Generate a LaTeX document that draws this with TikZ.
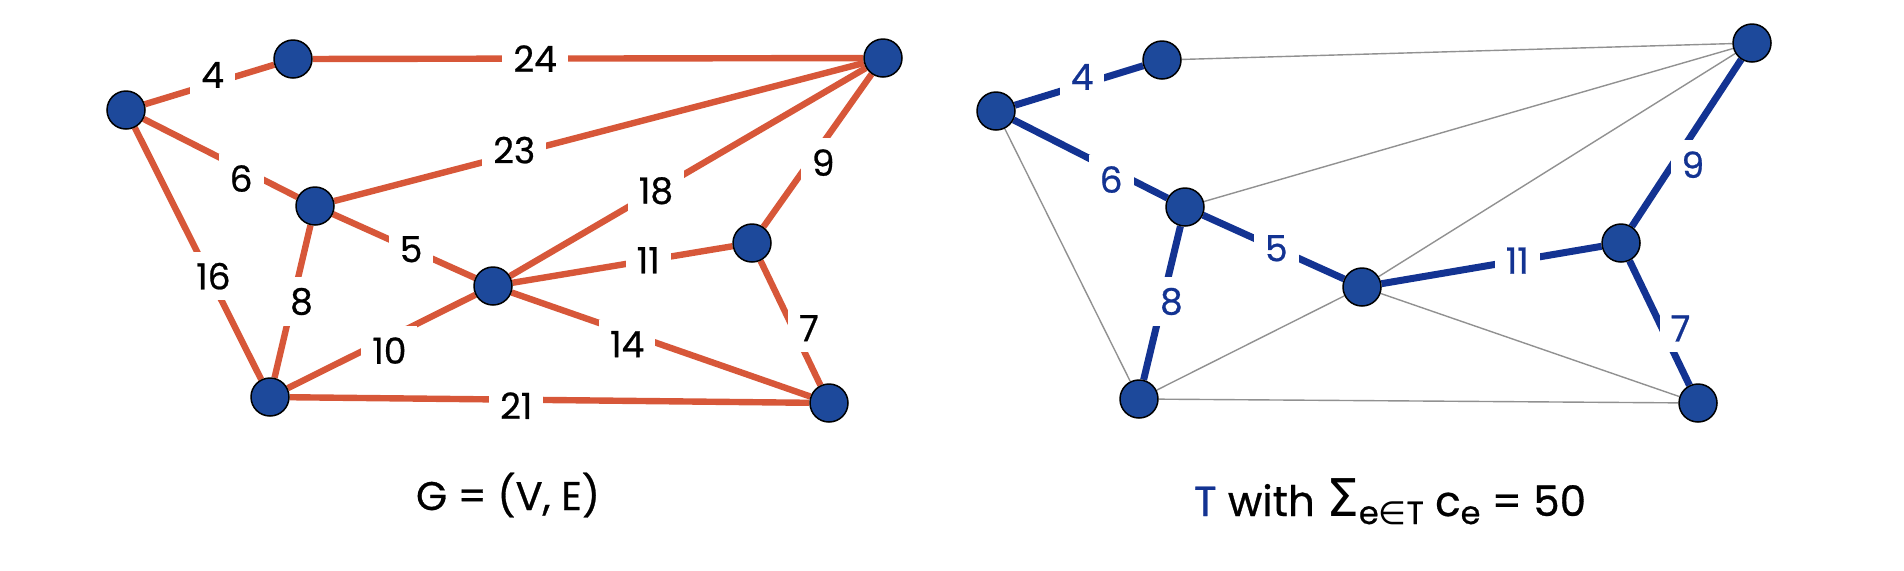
\documentclass[tikz,border=0pt]{standalone}
\usepackage{fontspec}
\setmainfont{Poppins}[FakeBold=0.7]
\newfontfamily\symfont{DejaVu Sans}
\usetikzlibrary{positioning}
\pgfdeclarelayer{bg}
\pgfsetlayers{bg,main}

\definecolor{edgeorange}{RGB}{215,87,57}
\definecolor{vertexblue}{RGB}{29,73,155}
\definecolor{treeblue}{RGB}{19,51,146}
\definecolor{offgray}{RGB}{145,145,145}

\tikzset{
  vertex/.style={circle,draw=black,line width=0.75pt,fill=vertexblue,minimum size=19pt,inner sep=0pt},
  gedge/.style={draw=edgeorange,line width=3.2pt},
  tedge/.style={draw=treeblue,line width=3.5pt},
  offedge/.style={draw=offgray,line width=0.7pt},
  wt/.style={fill=white,inner sep=5.5pt,font=\fontsize{18}{20}\selectfont},
  twt/.style={wt,text=treeblue},
  caption/.style={anchor=base,font=\fontsize{20}{24}\selectfont},
}

\begin{document}
\begin{tikzpicture}[x=0.5pt,y=-0.5pt]
      \useasboundingbox (0,0) rectangle (1904,570);

      % G = (V,E)
      \node[vertex] (a) at (126,110) {};
      \node[vertex] (b) at (293,59) {};
      \node[vertex] (c) at (883,58) {};
      \node[vertex] (d) at (315,206) {};
      \node[vertex] (e) at (493,286) {};
      \node[vertex] (f) at (752,243) {};
      \node[vertex] (g) at (270,397) {};
      \node[vertex] (h) at (829,403) {};

      \begin{pgfonlayer}{bg}
      \draw[gedge] (a) -- node[wt,pos=.54,xshift=-1pt,yshift=4pt] {4} (b);
      \draw[gedge] (b) -- node[wt,pos=.404] {24} (c);
      \draw[gedge] (a) -- node[wt,pos=.66,xshift=-2pt,yshift=-4pt] {6} (d);
      \draw[gedge] (d) -- node[wt,pos=.34,yshift=2pt] {23} (c);
      \draw[gedge] (e) -- node[wt,pos=.41] {18} (c);
      \draw[gedge] (f) -- node[wt,pos=.46,xshift=5pt,yshift=-3pt] {9} (c);
      \draw[gedge] (a) -- node[wt,pos=.59,xshift=2pt] {16} (g);
      \draw[gedge] (d) -- node[wt,pos=.5,xshift=4.5pt] {8} (g);
      \draw[gedge] (d) -- node[wt,pos=.55] {5} (e);
      \draw[gedge] (e) -- node[wt,pos=.617] {11} (f);
      \draw[gedge] (f) -- node[wt,pos=.59,xshift=6.5pt,yshift=3pt] {7} (h);
      \draw[gedge] (e) -- node[wt,pos=.49,xshift=3pt,yshift=-5pt] {10} (g);
      \draw[gedge] (e) -- node[wt,pos=.40,xshift=-2pt,yshift=-5pt] {14} (h);
      \draw[gedge] (g) -- node[wt,pos=.436,yshift=-3pt] {21} (h);
      \end{pgfonlayer}

      % spanning tree T
      \node[vertex] (a2) at (996,111) {};
      \node[vertex] (b2) at (1162,60) {};
      \node[vertex] (c2) at (1752,43) {};
      \node[vertex] (d2) at (1185,207) {};
      \node[vertex] (e2) at (1362,287) {};
      \node[vertex] (f2) at (1621,243) {};
      \node[vertex] (g2) at (1139,399) {};
      \node[vertex] (h2) at (1698,403) {};

      \begin{pgfonlayer}{bg}
      \draw[offedge] (b2) -- (c2);
      \draw[offedge] (d2) -- (c2);
      \draw[offedge] (e2) -- (c2);
      \draw[offedge] (a2) -- (g2);
      \draw[offedge] (e2) -- (g2);
      \draw[offedge] (e2) -- (h2);
      \draw[offedge] (g2) -- (h2);

      \draw[tedge] (a2) -- node[twt,pos=.54,xshift=-1pt,yshift=3.5pt] {4} (b2);
      \draw[tedge] (a2) -- node[twt,pos=.66,xshift=-2pt,yshift=-4pt] {6} (d2);
      \draw[tedge] (d2) -- node[twt,pos=.52] {5} (e2);
      \draw[tedge] (d2) -- node[twt,pos=.49,xshift=4.5pt] {8} (g2);
      \draw[tedge] (e2) -- node[twt,pos=.617] {11} (f2);
      \draw[tedge] (f2) -- node[twt,pos=.43,xshift=7pt,yshift=-5pt] {9} (c2);
      \draw[tedge] (f2) -- node[twt,pos=.6,xshift=7.5pt,yshift=3.5pt] {7} (h2);
      \end{pgfonlayer}

      \node[caption] (capG) at (508,510) {G = (V, E)};
      \node[caption,font=\fontsize{21}{26}\selectfont] (capT) at (1390,516)
        {\textcolor{treeblue}{T} with {\symfont\fontsize{26}{26}\selectfont Σ}\raisebox{-4pt}{\fontsize{16}{16}\selectfont e{\symfont ∈}T} c\raisebox{-4pt}{\fontsize{16}{16}\selectfont e} = 50};
    \end{tikzpicture}
\end{document}
